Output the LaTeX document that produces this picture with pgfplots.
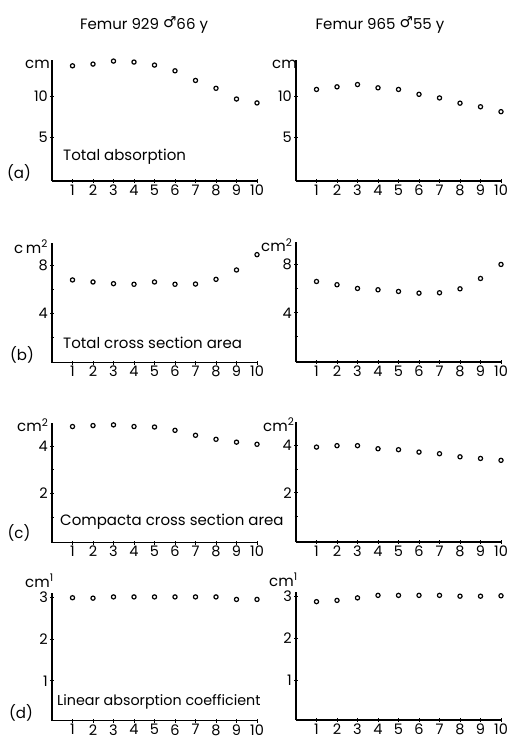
\documentclass[border=0pt]{standalone}
\usepackage{fontspec}
\setmainfont{Poppins}
\newfontfamily\symfont{DejaVu Sans}
\usepackage{pgfplots}
\pgfplotsset{compat=1.18}
\pgfplotsset{
  panel/.style={
    scale only axis, width=205pt, xmin=0, xmax=10,
    axis x line=bottom, axis y line=left,
    axis line style={-, line width=1.2pt},
    xtick={1,...,10}, tick align=center,
    major tick length=4pt, minor tick length=3pt,
    tick style={black, line width=0.7pt},
    anchor=south west, clip=false,
    /pgf/number format/assume math mode=true,
    ticklabel style={font=\fontsize{14.5}{16}\selectfont},
    xticklabel style={inner sep=1.5pt},
    yticklabel style={inner sep=2pt},
  },
  pts/.style={only marks, mark=o, mark size=2.1pt, line width=1.2pt, black},
}
\begin{document}
\begin{tikzpicture}
\path[use as bounding box] (0,0) rectangle (510pt,-740pt);
\tikzset{lab/.style={font=\fontsize{15}{17}\selectfont, inner sep=0pt}}
% titles
\node[lab] at (144pt,-25pt) {Femur 929 \raisebox{2pt}{\symfont\bfseries ♂}66 y};
\node[lab] at (380pt,-25pt) {Femur 965 \raisebox{2pt}{\symfont\bfseries ♂}55 y};
% row a
\begin{axis}[panel, at={(52pt,-181pt)}, height=121pt, ymin=-0.4, ymax=14.4, ytick={5,10}]
\addplot[pts] coordinates {(1,13.69) (2,13.9) (3,14.27) (4,14.15) (5,13.78) (6,13.08) (7,11.9) (8,10.94) (9,9.63) (10,9.15)};
\end{axis}
\begin{axis}[panel, at={(296pt,-181pt)}, height=121pt, ymin=-0.4, ymax=14.4, ytick={5,10}]
\addplot[pts] coordinates {(1,10.8) (2,11.12) (3,11.4) (4,11.0) (5,10.8) (6,10.2) (7,9.76) (8,9.12) (9,8.68) (10,8.08)};
\end{axis}
% row b
\begin{axis}[panel, at={(52pt,-362.5pt)}, height=120pt, ymin=-0.1, ymax=9.9, ytick={4,8}, minor ytick={2,6}]
\addplot[pts] coordinates {(1,6.78) (2,6.61) (3,6.47) (4,6.42) (5,6.61) (6,6.42) (7,6.44) (8,6.83) (9,7.61) (10,8.89)};
\end{axis}
\begin{axis}[panel, at={(296pt,-362pt)}, height=120pt, ymin=-0.1, ymax=9.9, ytick={4,8}, minor ytick={2,6}]
\addplot[pts] coordinates {(1,6.61) (2,6.34) (3,6.03) (4,5.92) (5,5.78) (6,5.64) (7,5.67) (8,6.0) (9,6.86) (10,8.03)};
\end{axis}
% row c
\begin{axis}[panel, at={(52pt,-542.5pt)}, height=120pt, ymin=-0.08, ymax=4.99, ytick={2,4}, minor ytick={1,3}]
\addplot[pts] coordinates {(1,4.82) (2,4.86) (3,4.89) (4,4.82) (5,4.80) (6,4.66) (7,4.45) (8,4.28) (9,4.16) (10,4.07)};
\end{axis}
\begin{axis}[panel, at={(296pt,-542pt)}, height=120pt, ymin=-0.08, ymax=4.99, ytick={2,4}, minor ytick={1,3}]
\addplot[pts] coordinates {(1,3.93) (2,3.99) (3,3.99) (4,3.86) (5,3.82) (6,3.72) (7,3.65) (8,3.52) (9,3.45) (10,3.37)};
\end{axis}
% row d
\begin{axis}[panel, at={(52pt,-720.7pt)}, height=128pt, ymin=0.05, ymax=3.1, ytick={1,2,3}]
\addplot[pts] coordinates {(1,2.98) (2,2.97) (3,3.0) (4,3.0) (5,3.0) (6,3.0) (7,3.0) (8,3.0) (9,2.94) (10,2.94)};
\end{axis}
\begin{axis}[panel, at={(296pt,-720pt)}, height=128pt, ymin=0.05, ymax=3.1, ytick={1,2,3}]
\addplot[pts] coordinates {(1,2.87) (2,2.9) (3,2.96) (4,3.02) (5,3.02) (6,3.02) (7,3.02) (8,3.0) (9,3.0) (10,3.01)};
\end{axis}
% unit labels
\node[lab, anchor=base west] at (25pt,-68pt) {cm};
\node[lab, anchor=base west] at (272pt,-68pt) {cm};
\node[lab, anchor=base west] at (14pt,-253pt) {c\,m\textsuperscript{2}};
\node[lab, anchor=base west] at (261pt,-251.7pt) {cm\textsuperscript{2}};
\node[lab, anchor=base west] at (17pt,-431.7pt) {cm\textsuperscript{2}};
\node[lab, anchor=base west] at (263pt,-431pt) {cm\textsuperscript{2}};
\node[lab, anchor=base west] at (25pt,-587pt) {cm\textsuperscript{1}};
\node[lab, anchor=base west] at (269pt,-586pt) {cm\textsuperscript{1}};
% panel letters
\node[lab] at (19pt,-173pt) {(a)};
\node[lab] at (22pt,-355pt) {(b)};
\node[lab] at (19pt,-533pt) {(c)};
\node[lab] at (21pt,-713pt) {(d)};
% descriptions
\node[lab, anchor=west] at (63pt,-157pt) {Total absorption};
\node[lab, anchor=west] at (63pt,-343pt) {Total cross section area};
\node[lab, anchor=west] at (60pt,-522pt) {Compacta cross section area};
\node[lab, anchor=west, font=\fontsize{14.3}{17}\selectfont] at (57pt,-702pt) {Linear absorption coefficient};
\end{tikzpicture}
\end{document}
